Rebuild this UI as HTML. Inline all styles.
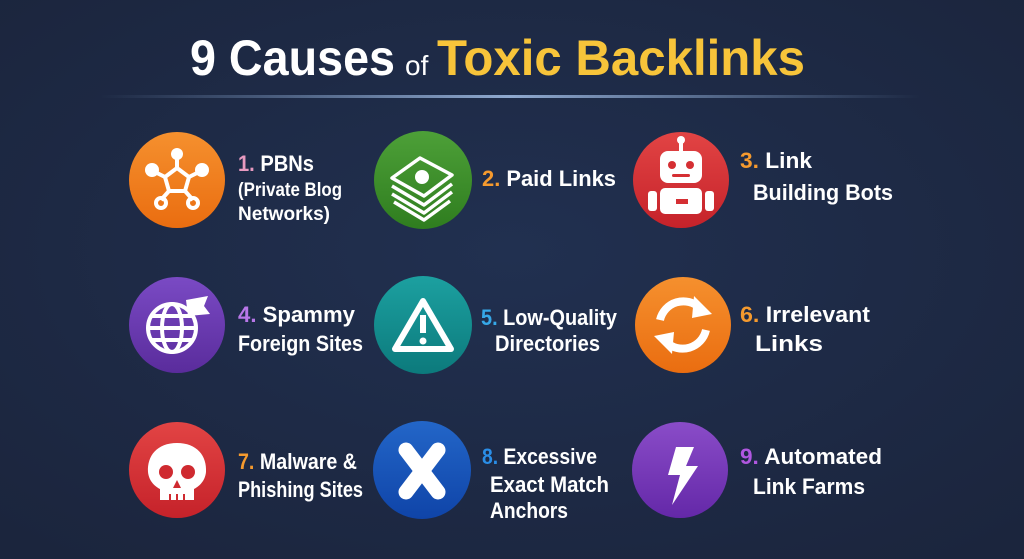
<!DOCTYPE html>
<html><head><meta charset="utf-8"><style>
html,body{margin:0;padding:0;background:#1d2842;}
svg{display:block}
text{font-family:"Liberation Sans Narrow","Liberation Sans",sans-serif;font-weight:bold;}
</style></head><body>
<svg width="1024" height="559" viewBox="0 0 1024 559">
<defs>
<radialGradient id="bg" cx="50%" cy="45%" r="70%"><stop offset="0" stop-color="#213050"/><stop offset="1" stop-color="#1b253d"/></radialGradient>
<linearGradient id="ln" x1="0" x2="1"><stop offset="0" stop-color="#7f9cc4" stop-opacity="0"/><stop offset="0.5" stop-color="#8fa9cf"/><stop offset="1" stop-color="#7f9cc4" stop-opacity="0"/></linearGradient>
<linearGradient id="or" x1="0" y1="0" x2="0" y2="1"><stop offset="0" stop-color="#f5902e"/><stop offset="1" stop-color="#ea6d10"/></linearGradient>
<linearGradient id="gr" x1="0" y1="0" x2="0" y2="1"><stop offset="0" stop-color="#4da038"/><stop offset="1" stop-color="#2f7d1f"/></linearGradient>
<linearGradient id="rd" x1="0" y1="0" x2="0" y2="1"><stop offset="0" stop-color="#e24444"/><stop offset="1" stop-color="#c5222a"/></linearGradient>
<linearGradient id="pu" x1="0" y1="0" x2="0" y2="1"><stop offset="0" stop-color="#7a4ac4"/><stop offset="1" stop-color="#5a2c9c"/></linearGradient>
<linearGradient id="te" x1="0" y1="0" x2="0" y2="1"><stop offset="0" stop-color="#1ca0a0"/><stop offset="1" stop-color="#0c7a7c"/></linearGradient>
<linearGradient id="bl" x1="0" y1="0" x2="0" y2="1"><stop offset="0" stop-color="#2366c8"/><stop offset="1" stop-color="#0f44a8"/></linearGradient>
<linearGradient id="vi" x1="0" y1="0" x2="0" y2="1"><stop offset="0" stop-color="#8a4cc8"/><stop offset="1" stop-color="#6428a8"/></linearGradient>
</defs>
<rect width="1024" height="559" fill="url(#bg)"/>
<!-- title -->
<text y="75" font-size="50"><tspan x="190" fill="#fff" textLength="205" lengthAdjust="spacingAndGlyphs">9 Causes</tspan><tspan x="405" fill="#fff" font-size="28" font-weight="normal">of</tspan><tspan x="437" fill="#f7c43a" textLength="368" lengthAdjust="spacingAndGlyphs">Toxic Backlinks</tspan></text>
<rect x="100" y="95" width="820" height="3" fill="url(#ln)"/>

<!-- circles -->
<g>
<circle cx="177" cy="180" r="48" fill="url(#or)"/>
<circle cx="423" cy="180" r="49" fill="url(#gr)"/>
<circle cx="681" cy="180" r="48" fill="url(#rd)"/>
<circle cx="177" cy="325" r="48" fill="url(#pu)"/>
<circle cx="423" cy="325" r="49" fill="url(#te)"/>
<circle cx="683" cy="325" r="48" fill="url(#or)"/>
<circle cx="177" cy="470" r="48" fill="url(#rd)"/>
<circle cx="422" cy="470" r="49" fill="url(#bl)"/>
<circle cx="680" cy="470" r="48" fill="url(#vi)"/>
</g>

<!-- icons -->
<g stroke="#fff" stroke-width="4" fill="none">
<polygon points="177,168 189,177 185,191 169,191 165,177"/>
<line x1="177" y1="168" x2="177" y2="158"/><line x1="189" y1="177" x2="199" y2="172"/><line x1="165" y1="177" x2="155" y2="172"/>
<line x1="185" y1="191" x2="193" y2="200"/><line x1="169" y1="191" x2="161" y2="200"/>
<circle cx="193" cy="203" r="5"/><circle cx="161" cy="203" r="5"/>
</g>
<g fill="#fff"><circle cx="177" cy="154" r="6"/><circle cx="202" cy="170" r="7"/><circle cx="152" cy="170" r="7"/></g>
<g stroke="#fff" stroke-width="3.5" fill="none" stroke-linejoin="round">
<polygon points="392,178 420,158 452,175 424,196"/>
<polyline points="392,186 424,205 452,184"/>
<polyline points="392,194 424,213 452,192"/>
<polyline points="394,202 424,220 450,201"/>
</g>
<circle cx="422" cy="177" r="7" fill="#fff"/>
<g fill="#fff">
<circle cx="681" cy="140" r="4"/><rect x="679" y="143" width="4" height="8"/>
<rect x="660" y="151" width="42" height="32" rx="8"/>
<rect x="660" y="188" width="42" height="26" rx="5"/>
<rect x="648" y="191" width="9" height="20" rx="3"/><rect x="705" y="191" width="9" height="20" rx="3"/>
</g>
<g fill="#d52f33"><circle cx="672" cy="165" r="4"/><circle cx="690" cy="165" r="4"/><rect x="672" y="174" width="18" height="3" rx="1.5"/><rect x="676" y="199" width="12" height="5"/></g>
<g stroke="#fff" stroke-width="4" fill="none">
<circle cx="172" cy="328" r="24"/>
<ellipse cx="172" cy="328" rx="10" ry="24"/>
<line x1="148" y1="328" x2="196" y2="328"/><line x1="151" y1="316" x2="193" y2="316"/><line x1="151" y1="340" x2="193" y2="340"/>
</g>
<polygon points="186,300 208,296 204,306 210,314 188,316" fill="#fff"/>
<polygon points="423,301 451,349 395,349" fill="none" stroke="#fff" stroke-width="6" stroke-linejoin="round"/>
<rect x="420" y="315" width="6" height="18" fill="#fff"/><circle cx="423" cy="341" r="3.5" fill="#fff"/>
<g stroke="#fff" stroke-width="8" fill="none">
<path d="M660,320 A24,24 0 0 1 700,308"/>
<path d="M706,330 A24,24 0 0 1 666,342"/>
</g>
<polygon points="694,296 712,314 692,318" fill="#fff"/>
<polygon points="672,354 654,336 674,332" fill="#fff"/>
<path d="M177,443 C157,443 147,456 148,472 C149,482 156,487 160,489 L160,500 L194,500 L194,489 C198,487 205,482 206,472 C207,456 197,443 177,443Z" fill="#fff"/>
<g fill="#cf2a30"><circle cx="166" cy="472" r="7"/><circle cx="188" cy="472" r="7"/><polygon points="177,480 173,488 181,488"/><rect x="169" y="494" width="2" height="6"/><rect x="176" y="494" width="2" height="6"/><rect x="183" y="494" width="2" height="6"/></g>
<g stroke="#fff" stroke-width="15" stroke-linecap="round"><line x1="406" y1="450" x2="438" y2="492"/><line x1="438" y1="450" x2="406" y2="492"/></g>
<polygon points="676,447 694,447 686,466 698,466 672,505 680,475 668,475" fill="#fff"/>

<!-- labels -->
<g font-size="22" fill="#fff" lengthAdjust="spacingAndGlyphs">
<text x="238" y="171" textLength="76" lengthAdjust="spacingAndGlyphs"><tspan fill="#e79ac0">1.</tspan> PBNs</text>
<text x="238" y="196" font-size="19" textLength="104" lengthAdjust="spacingAndGlyphs">(Private Blog</text>
<text x="238" y="220" font-size="19" textLength="92" lengthAdjust="spacingAndGlyphs">Networks)</text>
<text x="482" y="186" textLength="134" lengthAdjust="spacingAndGlyphs"><tspan fill="#f59a2e">2.</tspan> Paid Links</text>
<text x="740" y="168" textLength="72" lengthAdjust="spacingAndGlyphs"><tspan fill="#f59a2e">3.</tspan> Link</text>
<text x="753" y="200" textLength="140" lengthAdjust="spacingAndGlyphs">Building Bots</text>
<text x="238" y="322" textLength="117" lengthAdjust="spacingAndGlyphs"><tspan fill="#b877e8">4.</tspan> Spammy</text>
<text x="238" y="351" textLength="125" lengthAdjust="spacingAndGlyphs">Foreign Sites</text>
<text x="481" y="325" textLength="136" lengthAdjust="spacingAndGlyphs"><tspan fill="#36a8e8">5.</tspan> Low-Quality</text>
<text x="495" y="351" textLength="105" lengthAdjust="spacingAndGlyphs">Directories</text>
<text x="740" y="322" textLength="130" lengthAdjust="spacingAndGlyphs"><tspan fill="#f59a2e">6.</tspan> Irrelevant</text>
<text x="755" y="351" textLength="68" lengthAdjust="spacingAndGlyphs">Links</text>
<text x="238" y="469" textLength="119" lengthAdjust="spacingAndGlyphs"><tspan fill="#f59a2e">7.</tspan> Malware &amp;</text>
<text x="238" y="497" textLength="125" lengthAdjust="spacingAndGlyphs">Phishing Sites</text>
<text x="482" y="464" textLength="115" lengthAdjust="spacingAndGlyphs"><tspan fill="#2a8ee8">8.</tspan> Excessive</text>
<text x="490" y="492" textLength="119" lengthAdjust="spacingAndGlyphs">Exact Match</text>
<text x="490" y="518" textLength="78" lengthAdjust="spacingAndGlyphs">Anchors</text>
<text x="740" y="464" textLength="142" lengthAdjust="spacingAndGlyphs"><tspan fill="#b057e0">9.</tspan> Automated</text>
<text x="753" y="494" textLength="112" lengthAdjust="spacingAndGlyphs">Link Farms</text>
</g>
</svg>
</body></html>
